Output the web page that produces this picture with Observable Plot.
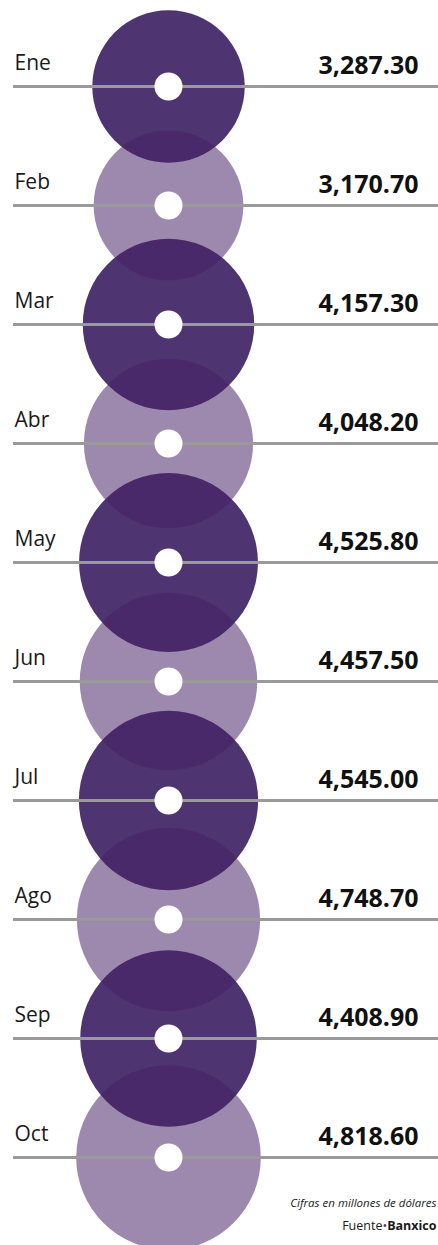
<!DOCTYPE html>
<html>
<head>
<meta charset="utf-8">
<script src="https://cdn.jsdelivr.net/npm/d3@7"></script>
<script src="https://cdn.jsdelivr.net/npm/@observablehq/plot@0.6"></script>
<style>
  html, body { margin: 0; padding: 0; background: #fff; overflow: hidden; }
  #chart { width: 438px; height: 1245px; position: relative; }
</style>
</head>
<body>
<div id="chart"></div>
<script>
const meses = ["Ene", "Feb", "Mar", "Abr", "May", "Jun", "Jul", "Ago", "Sep", "Oct"];
const valores = [3287.3, 3170.7, 4157.3, 4048.2, 4525.8, 4457.5, 4545.0, 4748.7, 4408.9, 4818.6];
const tonos = ["oscuro", "claro", "oscuro", "claro", "oscuro", "claro", "oscuro", "claro", "oscuro", "claro"];
const nota = "Cifras en millones de dólares";
const fuente = ["Fuente", "•", "Banxico"];

const datos = meses.map((m, i) => ({mes: m, valor: valores[i], tono: tonos[i]}));
const fmt = d3.format(",.2f");
const CX = 155; // circle centre offset from frame left

const chart = Plot.plot({
  width: 438,
  height: 1245,
  marginLeft: 13,
  marginRight: 0,
  marginTop: 83,
  marginBottom: 85,
  style: {background: "#fff", fontFamily: "'Open Sans', sans-serif"},
  y: {type: "point", domain: meses, padding: 0, axis: null},
  r: {type: "sqrt", domain: [0, d3.max(valores)], range: [0, 92.3]},
  marks: [
    Plot.dot(datos.filter(d => d.tono === "oscuro"), {
      y: "mes", r: "valor", frameAnchor: "left", dx: CX,
      fill: "#4e3470", stroke: null
    }),
    Plot.dot(datos.filter(d => d.tono === "claro"), {
      y: "mes", r: "valor", frameAnchor: "left", dx: CX,
      fill: "#462064", fillOpacity: 0.53, stroke: null
    }),
    Plot.ruleY(datos, {y: "mes", stroke: "#9a9a9a", strokeWidth: 3}),
    Plot.dot(datos, {
      y: "mes", r: 14, frameAnchor: "left", dx: CX, fill: "#fff", stroke: null
    }),
    Plot.text(datos, {
      y: "mes", text: "mes", frameAnchor: "left", textAnchor: "start",
      lineAnchor: "bottom", dx: 1, dy: -17,
      fontSize: 21, fill: "#1a1a1a", fontFamily: "'Open Sans', sans-serif"
    }),
    Plot.text(datos, {
      y: "mes", text: d => fmt(d.valor), frameAnchor: "left", textAnchor: "middle",
      lineAnchor: "bottom", dx: 355, dy: -13,
      fontSize: 25, fontWeight: "bold", fill: "#111", fontFamily: "'Open Sans', sans-serif"
    }),
    Plot.text([nota], {
      text: d => d, frameAnchor: "bottom-right", textAnchor: "end",
      lineAnchor: "bottom", dx: -2, dy: 46,
      fontSize: 11.5, fontStyle: "italic", fill: "#1a1a1a",
      fontFamily: "'Open Sans', sans-serif"
    }),
    Plot.text([fuente.join("")], {
      text: d => d, frameAnchor: "bottom-right", textAnchor: "end",
      lineAnchor: "bottom", dx: -2, dy: 69,
      fontSize: 12.5, fill: "#1a1a1a", fontFamily: "'Open Sans', sans-serif"
    })
  ]
});

document.getElementById("chart").appendChild(chart);

// style the source line: regular word, purple bullet, bold name
d3.select(chart).selectAll("text").each(function() {
  const t = d3.select(this);
  if (t.text() === fuente.join("")) {
    t.text(null);
    t.append("tspan").text(fuente[0]);
    t.append("tspan").attr("fill", "#4e3470").text(fuente[1]);
    t.append("tspan").attr("font-weight", "bold").text(fuente[2]);
  }
});
</script>
</body>
</html>
